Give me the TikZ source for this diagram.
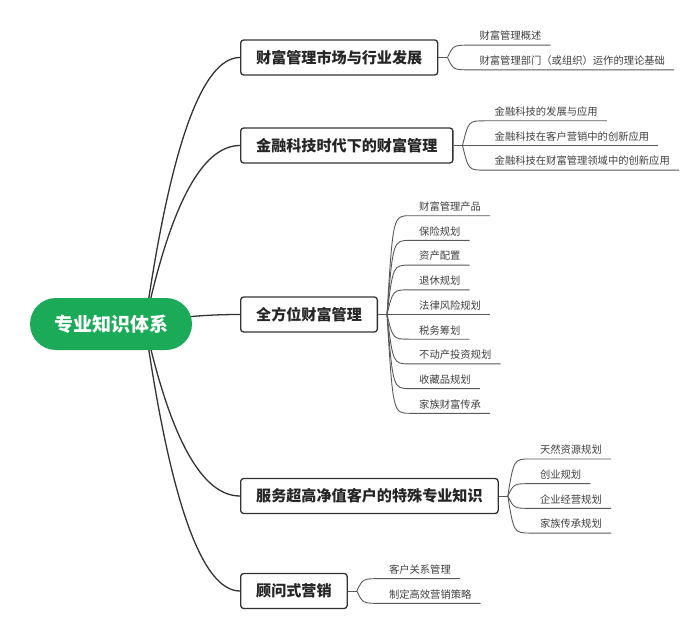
\documentclass[tikz,border=0pt]{standalone}
\usepackage{fontspec}
\newfontfamily\cjk{Noto Sans CJK SC}
\usetikzlibrary{calc,backgrounds}
\definecolor{rootgreen}{RGB}{27,170,88}
\definecolor{boxline}{RGB}{51,51,51}
\definecolor{leaftext}{RGB}{64,64,64}

\begin{document}
\begin{tikzpicture}[x=1pt,y=-1pt,
  root/.style={fill=rootgreen,rounded corners=26pt,minimum width=162pt,minimum height=52pt,
    text=white,font=\cjk\bfseries\fontsize{19}{19}\selectfont},
  topic/.style={draw=boxline,line width=1.3pt,rounded corners=3pt,fill=white,anchor=west,
    minimum height=35pt,inner xsep=15.5pt,text=black!85,font=\cjk\bfseries\fontsize{15.1}{15}\selectfont},
  leaf/.style={anchor=south west,inner xsep=9pt,inner ysep=3pt,text height=8pt,text depth=2pt,
    text=leaftext,font=\cjk\fontsize{10.3}{10}\selectfont},
  trunk/.style={draw=boxline,line width=1.3pt},
  twig/.style={draw=black!65,line width=.9pt}]
\useasboundingbox (0,0) rectangle (700,620);
% root and main topics
\node[root] (root) at (111,324) {专业知识体系};
\coordinate (hub) at ([xshift=34pt]root.center);
\node[topic] (b1) at (240,57.5) {财富管理市场与行业发展};
\node[topic] (b2) at (240,145.5) {金融科技时代下的财富管理};
\node[topic] (b3) at (240,314.5) {全方位财富管理};
\node[topic] (b4) at (240,496) {服务超高净值客户的特殊专业知识};
\node[topic] (b5) at (240,591) {顾问式营销};
\begin{scope}[on background layer]
\foreach \b in {b1,b2,b3,b4,b5}
  \draw[trunk] (hub) .. controls ($(hub)!2/3!(hub |- \b.west)+(25.3,0)$) and ($(\b.west)+(-38,0)$) .. (\b.west);
\end{scope}
% forks
\foreach \b in {b1,b2,b3,b4,b5} {
  \coordinate (f-\b) at ([xshift=9pt]\b.east);
  \draw[twig] (\b.east) -- (f-\b);
}
% leaves
\foreach \txt [count=\i] in {财富管理概述,财富管理部门（或组织）运作的理论基础} {
  \node[leaf] (b1-\i) at ($(f-b1)+(23,{(\i-1.5)*24.7})$) {\txt};
  \draw[twig] (f-b1) .. controls ($(f-b1 |- b1-\i.south west)+(6,0)$) .. (b1-\i.south west) -- (b1-\i.south east);
}
\foreach \txt [count=\i] in {金融科技的发展与应用,金融科技在客户营销中的创新应用,金融科技在财富管理领域中的创新应用} {
  \node[leaf] (b2-\i) at ($(f-b2)+(23,{(\i-2)*24.7})$) {\txt};
  \draw[twig] (f-b2) .. controls ($(f-b2 |- b2-\i.south west)+(6,0)$) .. (b2-\i.south west) -- (b2-\i.south east);
}
\foreach \txt [count=\i] in {财富管理产品,保险规划,资产配置,退休规划,法律风险规划,税务筹划,不动产投资规划,收藏品规划,家族财富传承} {
  \node[leaf] (b3-\i) at ($(f-b3)+(23,{(\i-5)*24.7})$) {\txt};
  \draw[twig] (f-b3) .. controls ($(f-b3 |- b3-\i.south west)+(6,0)$) .. (b3-\i.south west) -- (b3-\i.south east);
}
\foreach \txt [count=\i] in {天然资源规划,创业规划,企业经营规划,家族传承规划} {
  \node[leaf] (b4-\i) at ($(f-b4)+(23,{(\i-2.5)*24.7})$) {\txt};
  \draw[twig] (f-b4) .. controls ($(f-b4 |- b4-\i.south west)+(6,0)$) .. (b4-\i.south west) -- (b4-\i.south east);
}
\foreach \txt [count=\i] in {客户关系管理,制定高效营销策略} {
  \node[leaf] (b5-\i) at ($(f-b5)+(23,{(\i-1.5)*24.7})$) {\txt};
  \draw[twig] (f-b5) .. controls ($(f-b5 |- b5-\i.south west)+(6,0)$) .. (b5-\i.south west) -- (b5-\i.south east);
}
\end{tikzpicture}
\end{document}
